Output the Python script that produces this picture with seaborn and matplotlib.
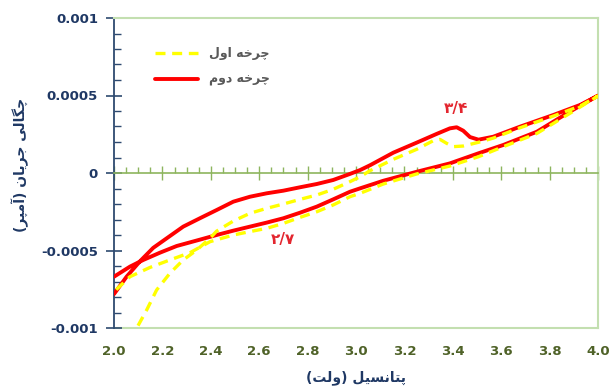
import matplotlib
matplotlib.use("Agg")
import matplotlib.pyplot as plt
import seaborn as sns

# cycle 1 (yellow, dashed): anodic sweep 2 -> 4 V, then cathodic return 4 -> 2 V
v_cycle1 = [2.00, 2.05, 2.094, 2.135, 2.176, 2.231, 2.286, 2.342, 2.397, 2.424, 2.493, 2.562,
            2.631, 2.70, 2.769, 2.838, 2.906, 2.975, 3.017, 3.058, 3.154, 3.251, 3.32, 3.347,
            3.375, 3.402, 3.443, 3.506, 3.567, 3.678, 3.815, 3.926, 4.00,
            3.884, 3.747, 3.609, 3.506, 3.388, 3.251, 3.113, 3.017, 2.975, 2.906, 2.838, 2.769,
            2.70, 2.631, 2.562, 2.493, 2.397, 2.314, 2.231, 2.149, 2.066, 2.00]
i_cycle1 = [-0.00140, -0.00116, -0.00100, -0.000884, -0.000755, -0.000647, -0.000561, -0.000497,
            -0.00042, -0.000375, -0.00031, -0.00026, -0.000228, -0.0002, -0.00017, -0.000142,
            -0.000105, -0.000056, -0.000024, 0.000015, 0.000088, 0.000153, 0.000209, 0.000217,
            0.000191, 0.00017, 0.000174, 0.000198, 0.000225, 0.000292, 0.000367, 0.000432,
            0.000497,
            0.000385, 0.000255, 0.00017, 0.000105, 0.000045, -0.000006, -0.000071, -0.000131,
            -0.000153, -0.000206, -0.00025, -0.000286, -0.000325, -0.000357, -0.000378, -0.0004,
            -0.000443, -0.000514, -0.000561, -0.000609, -0.000669, -0.000766]

# cycle 2 (red, solid)
v_cycle2 = [2.00, 2.052, 2.107, 2.162, 2.218, 2.286, 2.355, 2.424, 2.493, 2.562, 2.631, 2.70,
            2.769, 2.838, 2.906, 2.975, 3.017, 3.058, 3.154, 3.251, 3.333, 3.388, 3.416, 3.443,
            3.471, 3.506, 3.567, 3.678, 3.815, 3.926, 4.00,
            3.884, 3.747, 3.609, 3.506, 3.388, 3.251, 3.113, 3.017, 2.975, 2.906, 2.838, 2.769,
            2.70, 2.631, 2.562, 2.493, 2.424, 2.355, 2.259, 2.19, 2.121, 2.066, 2.00]
i_cycle2 = [-0.000781, -0.000669, -0.00057, -0.000483, -0.000421, -0.000346, -0.000292,
            -0.000239, -0.000185, -0.000153, -0.000131, -0.000114, -0.000092, -0.000071,
            -0.000045, -0.000006, 0.000019, 0.00005, 0.000131, 0.000196, 0.000252, 0.000288,
            0.000295, 0.000273, 0.000232, 0.000215, 0.000234, 0.000299, 0.000374, 0.000439,
            0.000499,
            0.000396, 0.000266, 0.000181, 0.000127, 0.000062, 0.000008, -0.00005, -0.000099,
            -0.000121, -0.00017, -0.000217, -0.000256, -0.000292, -0.00032, -0.000346,
            -0.000372, -0.0004, -0.00043, -0.000471, -0.000514, -0.000561, -0.000604, -0.000669]

x_ticks = [2.0, 2.2, 2.4, 2.6, 2.8, 3.0, 3.2, 3.4, 3.6, 3.8, 4.0]
x_labels = ["2.0", "2.2", "2.4", "2.6", "2.8", "3.0", "3.2", "3.4", "3.6", "3.8", "4.0"]
y_ticks = [-0.001, -0.0005, 0, 0.0005, 0.001]
y_labels = ["-0.001", "-0.0005", "0", "0.0005", "0.001"]

series_names = ["چرخه اول", "چرخه دوم"]
x_title = "پتانسیل (ولت)"
y_title = "چگالی جریان (آمپر)"
peak_labels = ["۳/۴", "۲/۷"]

# matplotlib has no arabic shaping, so pick the joined forms by hand
FORMS = {
    'ا': ('\uFE8D', '\uFE8E', None, None),
    'آ': ('\uFE81', '\uFE82', None, None),
    'پ': ('\uFB56', '\uFB57', '\uFB58', '\uFB59'),
    'ت': ('\uFE95', '\uFE96', '\uFE97', '\uFE98'),
    'ج': ('\uFE9D', '\uFE9E', '\uFE9F', '\uFEA0'),
    'چ': ('\uFB7A', '\uFB7B', '\uFB7C', '\uFB7D'),
    'خ': ('\uFEA5', '\uFEA6', '\uFEA7', '\uFEA8'),
    'د': ('\uFEA9', '\uFEAA', None, None),
    'ر': ('\uFEAD', '\uFEAE', None, None),
    'س': ('\uFEB1', '\uFEB2', '\uFEB3', '\uFEB4'),
    'گ': ('\uFB92', '\uFB93', '\uFB94', '\uFB95'),
    'ل': ('\uFEDD', '\uFEDE', '\uFEDF', '\uFEE0'),
    'م': ('\uFEE1', '\uFEE2', '\uFEE3', '\uFEE4'),
    'ن': ('\uFEE5', '\uFEE6', '\uFEE7', '\uFEE8'),
    'ه': ('\uFEE9', '\uFEEA', '\uFEEB', '\uFEEC'),
    'و': ('\uFEED', '\uFEEE', None, None),
    'ی': ('\uFBFC', '\uFBFD', '\uFBFE', '\uFBFF'),
}


def fa(text):
    out = []
    for k, ch in enumerate(text):
        if ch not in FORMS:
            out.append(ch)
            continue
        prev = text[k - 1] if k > 0 else ''
        nxt = text[k + 1] if k + 1 < len(text) else ''
        jp = prev in FORMS and FORMS[prev][2] is not None
        jn = nxt in FORMS and FORMS[ch][2] is not None
        iso, fin, ini, med = FORMS[ch]
        if jp and jn:
            out.append(med)
        elif jp:
            out.append(fin)
        elif jn:
            out.append(ini)
        else:
            out.append(iso)
    return ''.join(reversed(out)).translate(str.maketrans('()', ')('))


sns.set_style("white")
plt.rcParams['font.family'] = ['DejaVu Sans']

navy = "#1f3864"
green = "#4f6228"
light_green = "#c3dfb0"
axis_green = "#8db55e"

fig = plt.figure(figsize=(6.13, 3.87), dpi=100)
ax = fig.add_axes([114 / 613, 1 - 328 / 387, 484 / 613, 310 / 387])

sns.lineplot(x=v_cycle1, y=i_cycle1, sort=False, estimator=None, ax=ax, color="#ffff00",
             linewidth=2.4, label=fa(series_names[0]), zorder=4)
ax.lines[-1].set_linestyle((0, (3, 2)))
sns.lineplot(x=v_cycle2, y=i_cycle2, sort=False, estimator=None, ax=ax, color="#ff0000",
             linewidth=2.8, label=fa(series_names[1]), zorder=3)
for ln in ax.lines:
    ln.set_solid_joinstyle('round')
    ln.set_dash_joinstyle('round')

ax.set_xlim(2.0, 4.0)
ax.set_ylim(-0.001, 0.001)

# x axis crosses at zero, labels sit at the bottom of the plot area
ax.spines['bottom'].set_position(('data', 0))
ax.spines['bottom'].set_color(axis_green)
ax.spines['bottom'].set_linewidth(1.2)
ax.spines['top'].set_color(light_green)
ax.spines['right'].set_color(light_green)
ax.spines['top'].set_linewidth(1.5)
ax.spines['right'].set_linewidth(1.5)
ax.spines['left'].set_color("#2e4a70")
ax.spines['left'].set_linewidth(1.3)

ax.set_xticks(x_ticks)
ax.set_xticks([2.0 + 0.05 * k for k in range(41)], minor=True)
ax.tick_params(axis='x', which='major', direction='inout', length=10, width=1, color=axis_green,
               labelbottom=False, bottom=True)
ax.tick_params(axis='x', which='minor', direction='in', length=4, width=1, color=axis_green, bottom=True)

ax.set_yticks(y_ticks, labels=y_labels)
ax.set_yticks([-0.001 + 0.0001 * k for k in range(21)], minor=True)
ax.tick_params(axis='y', which='major', direction='inout', length=11, width=1.2, color="#2e4a70",
               labelcolor=navy, labelsize=9.5, pad=6, left=True)
ax.tick_params(axis='y', which='minor', direction='in', length=5, width=1, color="#2e4a70", left=True)
for t in ax.get_yticklabels():
    t.set_fontweight('bold')

sec = ax.secondary_xaxis(0)
sec.set_xticks(x_ticks, labels=x_labels)
sec.tick_params(length=0, pad=12, labelcolor=green, labelsize=9.5)
sec.spines['bottom'].set_color(light_green)
sec.spines['bottom'].set_linewidth(1.5)
for t in sec.get_xticklabels():
    t.set_fontweight('bold')

ax.text(3.413, 0.000413, peak_labels[0], color="#e3262f", fontsize=11, fontweight='bold',
        ha='center', va='center')
ax.text(2.70, -0.000432, peak_labels[1], color="#e3262f", fontsize=11, fontweight='bold',
        ha='center', va='center')

fig.text(356 / 613, 1 - 378 / 387, fa(x_title), color=navy, fontsize=10, fontweight='bold',
         ha='center', va='center')
fig.text(20 / 613, 1 - 165 / 387, fa(y_title), color=navy, fontsize=10, fontweight='bold',
         ha='center', va='center', rotation=90)

leg = ax.legend(loc='center left', bbox_to_anchor=(0.085, 0.842), frameon=False, borderpad=0,
                borderaxespad=0, handlelength=3.4, handletextpad=0.9, labelspacing=1.0,
                fontsize=9, labelcolor="#595959")
for t in leg.get_texts():
    t.set_fontweight('bold')

fig.savefig("out.png", dpi=100)
